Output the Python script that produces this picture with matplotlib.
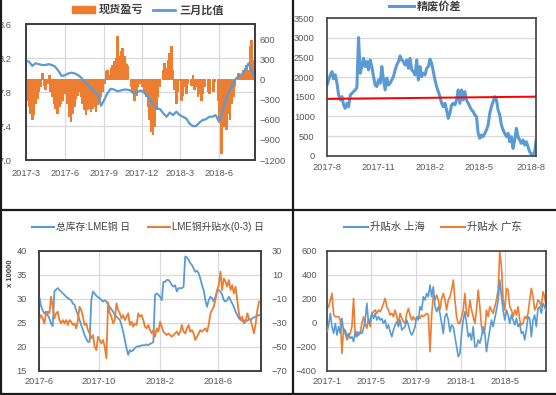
import matplotlib
matplotlib.use("Agg")
import matplotlib.pyplot as plt
import matplotlib.dates as mdates
import numpy as np
import pandas as pd
from matplotlib.lines import Line2D
from matplotlib.patches import Patch

plt.rcParams['font.family'] = ['Liberation Sans', 'Noto Sans CJK SC', 'DejaVu Sans']

BLUE = '#5B9BD5'
ORANGE = '#ED7D31'
TXT = '#595959'
FRAME = '#404040'
GRID = '#D9D9D9'

# ---------------- data ----------------
# chart 1: 三月比值 (left axis) and 现货盈亏 (right axis, bars)
c1_range = ('2017-03-01', '2018-08-25')
c1_ticks = ['2017-3', '2017-6', '2017-9', '2017-12', '2018-3', '2018-6']
ratio = [8.17, 8.16, 8.11, 8.14, 8.13, 8.12, 8.12, 8.13, 8.12, 8.10,
         8.05, 7.99, 8.00, 8.02, 8.03, 8.02, 8.00, 7.97, 7.92, 7.88,
         7.85, 7.81, 7.77, 7.64, 7.71, 7.79, 7.84, 7.83, 7.81, 7.82,
         7.83, 7.83, 7.82, 7.78, 7.80, 7.82,
         7.80, 7.76, 7.71, 7.65, 7.61, 7.60, 7.55, 7.51, 7.56, 7.53,
         7.57, 7.53, 7.51, 7.49, 7.43, 7.40, 7.40, 7.44, 7.47, 7.48,
         7.51, 7.51, 7.53, 7.45, 7.55, 7.70, 7.80, 7.88, 7.95, 7.99,
         8.01, 8.06, 8.14, 8.05, 7.97]
pnl = [-233, -307, -406, -505, -604, -530, -356, -282, -183, -109,
       89, -84, -158, -59, 60, -183, -257, -356, -430, -505,
       -406, -356, -307, -208, -109, -356, -554, -629, -505, -406,
       -282, -233, -183, -257, -356, -455, -530, -455, -430, -480,
       -430, -406, -480, -381, -307, -257, -183, -59, 114, 139,
       64, 163, 213, 262, 312, 634, 337, 411, 460, 337,
       238, 188, 0, -109, -183, -307, -233, -109, -59,
       0, -109, -183, -257, -406, -604, -777, -827, -703, -455,
       -257, -109, 0, 139, 238, 163, 287, 386, 485, 139,
       -158, -356, -183, -10, -307, -233, -109, -208, -59, 0,
       -84, 64, -158, -109, -257, -208, -307, -208, -109, 0,
       -183, -208, 0, -183, -35, 0, -307, -604, -1100, -703,
       -604, -752, -505, -604, -356, -257, -109, 0, 89, 64,
       40, 139, 163, 213, 139, 485, 580, 287, 139]

# chart 2: 精废价差
c2_range = ('2017-08-01', '2018-08-11')
c2_ticks = ['2017-8', '2017-11', '2018-2', '2018-5', '2018-8']
spread = [1800, 1930, 2057, 2142, 1960, 2060, 1845, 1547, 1420, 1505,
          1292, 1207, 1335, 1250, 1547, 1590, 1632, 1675, 1742, 3009,
          2100, 2270, 2482, 2270, 2397, 2185, 2440, 2270, 2015, 1800,
          1760, 1930, 1845, 2270, 1930, 1675, 1972, 1800, 1845, 1930,
          2015, 2185, 2312, 2397, 2541, 2440, 2397, 2312, 2440, 2227,
          2482, 2185, 2142, 2057, 2440, 1930, 2270, 2015, 2100, 2057,
          2227, 2270, 2457, 2355, 2142, 1930, 1760, 1632, 1505, 1335,
          1250, 1335, 1165, 952, 1080, 1292, 1335, 1292, 1420, 1675,
          1335, 1675, 1420, 1632, 1420, 1335, 1250, 1165, 1122, 1037,
          995, 570, 442, 527, 485, 570, 655, 782, 1080, 1250,
          1377, 1505, 1420, 1165, 1037, 782, 655, 570, 485, 570,
          357, 485, 187, 400, 697, 485, 400, 315, 400, 272,
          357, 230, 102, 42, 17, 102, 400]
trend = [1445, 1505]

# chart 3: 总库存:LME铜 (left, x 10000) and LME铜升贴水(0-3) (right)
c3_range = ('2017-06-01', '2018-08-26')
c3_ticks = ['2017-6', '2017-10', '2018-2', '2018-6']
lme_stock = [30.3, 28.5, 27.6, 26.9, 27.3, 26.6, 25.9, 24.8, 24.3, 31.5,
             31.9, 32.2, 31.8, 31.5, 31.1, 30.8, 30.4, 30.1, 29.9, 29.7,
             29.0, 28.7, 27.6, 26.6, 25.6, 24.5, 23.5, 22.4, 21.7, 21.0,
             21.0, 29.7, 31.5, 31.1, 30.6, 30.3, 30.1, 29.7, 29.4, 29.7,
             29.4, 28.7, 28.3, 27.8, 27.3, 26.6, 26.3, 25.9, 25.6, 24.5,
             23.1, 21.4, 19.7, 18.3, 19.3, 19.0, 19.3, 19.7, 20.0, 20.1,
             20.1, 20.3, 20.3, 20.3, 20.5, 20.3, 20.6, 20.7, 21.0, 30.8,
             31.1, 30.8, 30.4, 29.7, 33.5, 33.5, 33.9, 33.9, 33.5, 32.8,
             32.5, 32.8, 31.5, 32.2, 32.2, 32.2, 32.5, 38.8, 38.6, 38.1,
             37.4, 37.0, 36.3, 35.6, 35.8, 35.3, 34.2, 32.8, 31.8, 29.7,
             28.3, 29.7, 30.4, 30.1, 29.4, 30.4, 31.5, 31.8, 31.5, 30.8,
             29.7, 29.4, 29.7, 30.4, 29.7, 29.0, 28.3, 27.3, 26.6, 25.9,
             25.6, 25.4, 25.2, 25.6, 25.4, 25.7, 25.6, 25.9, 26.1, 26.3,
             26.4, 26.6, 26.6]
lme_spread = [-27, -23.6, -26.4, -30.6, -22.2, -20.8, -22.2, -8.3, -16.7, -26.4,
              -22.2, -20.8, -27.8, -30.6, -27.8, -30.6, -27.8, -31.9, -27.8, -29.2,
              -31.9, -30.6, -34.7, -27.8, -16.7, -19.4, -25, -31.9, -30.6, -36.1,
              -38.9, -43.1, -40.3, -50, -52.8, -41.7, -44.4, -47.2, -44.4, -50,
              -59.7, -13, -22, -25, -30.6, -27.8, -13.9, -19.4, -22.2, -26.4,
              -23.6, -27.8, -25, -22.2, -31.9, -29.2, -33.3, -30.6, -31.9, -22.2,
              -25, -23.6, -27.8, -33.3, -34.7, -31.9, -36.1, -38.9, -36.1, -41.7,
              -34.7, -37.5, -29.2, -33.3, -37.5, -38.9, -40.3, -38.9, -40.3, -41.7,
              -40.3, -38.9, -37.5, -40.3, -37.5, -31.9, -37.5, -38.9, -34.7, -31.9,
              -37.5, -36.1, -38.9, -44.4, -41.7, -38.9, -36.1, -37.5, -36.1, -34.7,
              -37.5, -31.9, -22.2, -19.4, -16.7, -11.1, -2.8, 1.4, 12.5, -2.8,
              6.9, 4.2, 0, 5.6, -2.8, 1.4, -5.6, 0, -11.1, -22.2,
              -27.8, -25, -30.6, -29.2, -22.2, -26.4, -27.8, -33.3, -38.9, -30.6,
              -19.4, -12.5, -11.9]

# chart 4: 升贴水 上海 / 升贴水 广东
c4_range = ('2017-01-01', '2018-08-23')
c4_ticks = ['2017-1', '2017-5', '2017-9', '2018-1', '2018-5']
sh_premium = [-75, -19, 78, -33, -89, -6, -103, -33, -89, 36,
              -75, -61, -117, -89, -131, -117, -158, -75, -117, -89,
              -75, -89, -47, 22, 161, -6, 22, 78, 36, 78,
              22, 50, 22, 36, -6, 22, -47, -19, -75, -117,
              -61, -19, 8, -33, 22, -61, -47, -33, 22, -19,
              -75, -103, -75, -33, 50, 22, 133, 106, 217, 189,
              244, 217, 314, 217, 300, 133, 92, 133, 78, -6,
              -89, 50, 78, 22, -75, -19, -33, -117, -200, -283,
              -256, -89, 22, 92, -6, -117, -89, -144, -33, -200,
              -200, -144, -172, -117, -33, -89, -242, -144, -61, 22,
              -33, 36, 106, 189, 356, 217, 106, 22, 106, 64,
              -6, 64, 22, -19, 36, -33, -6, -89, -75, -144,
              -61, 50, 36, -117, 22, 64, -33, 119, 133, 78,
              161, 133, 92]
gd_premium = [119, 133, 189, 244, 64, 50, 50, 50, 22, -256,
              -47, -89, -144, -117, -89, -33, 203, -117, -75, -103,
              -89, -6, 50, -6, -47, 36, -33, 78, 92, 106,
              78, 106, 92, 119, 161, 203, 133, 106, 64, 78,
              50, 106, 50, -6, 78, 36, 8, -6, 78, 119,
              64, 22, 50, 22, 36, 50, 36, 64, 50, 64,
              78, 64, -242, 64, 231, 189, 231, 189, 106, 203,
              244, 189, 106, 189, 217, 272, 356, 189, 50, -6,
              -6, 50, 106, 244, 78, 50, 189, 106, 50, -6,
              106, 272, 133, -33, -89, -61, 106, 50, 133, 106,
              78, 133, 189, 272, 592, 467, 189, 106, 286, 272,
              133, 106, 50, 106, 64, 133, 22, -19, -6, 50,
              36, 78, 189, 286, 217, 106, 133, 189, 175, 133,
              258, 217, 133]

# ---------------- helpers ----------------
W, H = 556, 395
fig = plt.figure(figsize=(W / 100, H / 100), dpi=100)
fig.patch.set_facecolor('white')


def rect(l, t, r, b):
    return [l / W, 1 - b / H, (r - l) / W, (b - t) / H]


def dates(rng, n):
    return mdates.date2num(pd.date_range(rng[0], rng[1], periods=n))


def tick_pos(labels):
    return mdates.date2num(pd.to_datetime([s + '-1' for s in labels], format='%Y-%m-%d'))


def style(ax, lpad=8, bpad=5, size=6.7):
    for s in ax.spines.values():
        s.set_color(FRAME)
        s.set_linewidth(1.2)
    ax.tick_params(axis='both', length=0, labelcolor=TXT, labelsize=size)
    ax.tick_params(axis='y', pad=lpad)
    ax.tick_params(axis='x', pad=bpad)


# ---------------- chart 1 ----------------
ax1 = fig.add_axes(rect(25.7, 24.3, 255, 160))
ax1b = ax1.twinx()
ax1l = ax1.twinx()
x_ratio = dates(c1_range, len(ratio))
x_pnl = dates(c1_range, len(pnl))
wbar = (x_pnl[1] - x_pnl[0]) * 1.05
ax1b.bar(x_pnl, pnl, width=wbar, color=ORANGE, linewidth=0, snap=False, antialiased=False)
ax1l.plot(x_ratio, ratio, color=BLUE, lw=1.6)
lo, hi = mdates.date2num(pd.to_datetime(c1_range[0])), mdates.date2num(pd.to_datetime(c1_range[1]))
for a in (ax1, ax1b, ax1l):
    a.set_xlim(lo, hi)
ax1.set_ylim(7.0, 8.6)
ax1l.set_ylim(7.0, 8.6)
ax1.set_yticks(np.arange(7.0, 8.61, 0.4))
ax1.set_yticklabels(['%.1f' % v for v in np.arange(7.0, 8.61, 0.4)])
ax1b.set_ylim(-1200, 820)
ax1b.set_yticks(np.arange(-1200, 601, 300))
ax1l.set_yticks([])
ax1.set_xticks(tick_pos(c1_ticks))
ax1.set_xticklabels(c1_ticks)
ax1.grid(True, color=GRID, lw=0.9)
style(ax1, lpad=10, bpad=6.2)
style(ax1b, lpad=3)
style(ax1l)
fig.legend([Patch(color=ORANGE), Line2D([], [], color=BLUE, lw=2)], ['现货盈亏', '三月比值'],
           loc='center', bbox_to_anchor=(148 / W, 1 - 10 / H), ncol=2, frameon=False,
           prop=dict(size=8, weight='bold'), labelcolor='#404040',
           handlelength=2.0, handleheight=0.55, handletextpad=0.35, columnspacing=0.9)

# ---------------- chart 2 ----------------
ax2 = fig.add_axes(rect(327, 18.3, 536.3, 155.7))
x_sp = dates(c2_range, len(spread))
ax2.plot(x_sp, spread, color=BLUE, lw=2.2)
ax2.plot(dates(c2_range, len(trend)), trend, color='#FF0000', lw=1.4)
ax2.set_xlim(x_sp[0], x_sp[-1])
ax2.set_ylim(0, 3500)
ax2.set_yticks(np.arange(0, 3501, 500))
ax2.set_xticks(tick_pos(c2_ticks))
ax2.set_xticklabels(c2_ticks)
ax2.grid(True, axis='y', color=GRID, lw=0.9)
style(ax2, lpad=8.8, bpad=5.6)
fig.legend([Line2D([], [], color=BLUE, lw=2.2)], ['精废价差'],
           loc='center', bbox_to_anchor=(425 / W, 1 - 6 / H), frameon=False,
           prop=dict(size=8, weight='bold'), labelcolor='#404040',
           handlelength=2.3, handletextpad=0.2)

# ---------------- chart 3 ----------------
ax3 = fig.add_axes(rect(39.3, 250.7, 260.7, 370.7))
ax3b = ax3.twinx()
x_st = dates(c3_range, len(lme_stock))
x_ls = dates(c3_range, len(lme_spread))
ax3.plot(x_st, lme_stock, color=BLUE, lw=1.3, zorder=3)
ax3b.plot(x_ls, lme_spread, color=ORANGE, lw=1.3)
lo3, hi3 = mdates.date2num(pd.to_datetime(c3_range[0])), mdates.date2num(pd.to_datetime(c3_range[1]))
ax3.set_xlim(lo3, hi3)
ax3.set_ylim(15, 40)
ax3.set_yticks(np.arange(15, 41, 5))
ax3b.set_ylim(-70, 30)
ax3b.set_yticks(np.arange(-70, 31, 20))
ax3.set_xticks(tick_pos(c3_ticks))
ax3.set_xticklabels(c3_ticks)
ax3.grid(True, color=GRID, lw=0.9)
style(ax3, lpad=8.8, bpad=4.8)
style(ax3b, lpad=8)
fig.text(10 / W, 1 - 273 / H, 'x 10000', rotation=90, ha='center', va='center',
         fontsize=5.5, fontweight='bold', color='#404040')
fig.legend([Line2D([], [], color=BLUE, lw=1.5), Line2D([], [], color=ORANGE, lw=1.5)],
           ['总库存:LME铜 日', 'LME铜升贴水(0-3) 日'],
           loc='center', bbox_to_anchor=(148 / W, 1 - 227 / H), ncol=2, frameon=False,
           prop=dict(size=7), labelcolor='#404040',
           handlelength=2.3, handletextpad=0.2, columnspacing=1.8)

# ---------------- chart 4 ----------------
ax4 = fig.add_axes(rect(327, 250.7, 546.3, 370.7))
x4 = dates(c4_range, len(sh_premium))
ax4.plot(x4, sh_premium, color=BLUE, lw=1.2, zorder=3)
ax4.plot(dates(c4_range, len(gd_premium)), gd_premium, color=ORANGE, lw=1.2, zorder=2)
ax4.set_xlim(x4[0], x4[-1])
ax4.set_ylim(-400, 600)
ax4.set_yticks(np.arange(-400, 601, 200))
ax4.set_xticks(tick_pos(c4_ticks))
ax4.set_xticklabels(c4_ticks)
ax4.grid(True, color=GRID, lw=0.9)
style(ax4, lpad=7.2, bpad=4.8)
fig.legend([Line2D([], [], color=BLUE, lw=1.5), Line2D([], [], color=ORANGE, lw=1.5)],
           ['升贴水 上海', '升贴水 广东'],
           loc='center', bbox_to_anchor=(433 / W, 1 - 227 / H), ncol=2, frameon=False,
           prop=dict(size=7.5), labelcolor='#404040',
           handlelength=2.3, handletextpad=0.2, columnspacing=1.5)

# ---------------- panel dividers ----------------
def fline(xs, ys, lw=1.6):
    fig.add_artist(Line2D([x / W for x in xs], [1 - y / H for y in ys],
                          transform=fig.transFigure, color='#1A1A1A', lw=lw))

fline([293, 293], [0, H])
fline([0, W], [210, 210])
fline([0, W], [393.8, 393.8])
fline([0.8, 0.8], [0, H])

fig.savefig('out.png', dpi=100, facecolor='white')
